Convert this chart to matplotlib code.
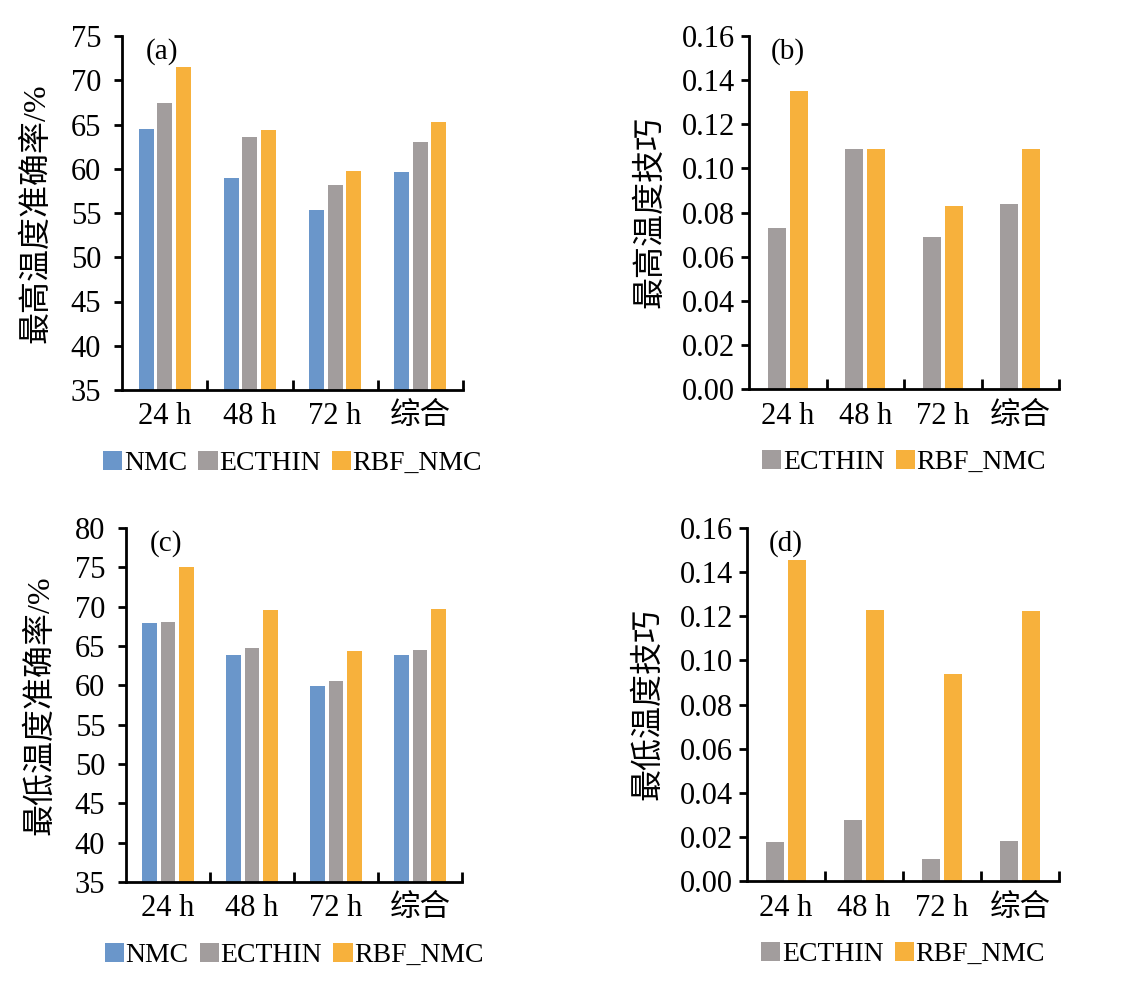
import matplotlib
matplotlib.use('agg')
import matplotlib.pyplot as plt
import numpy as np

plt.rcParams['font.family'] = ['Liberation Serif', 'Noto Sans CJK SC']

categories = ['24 h', '48 h', '72 h', '综合']

# (a) max temperature accuracy, %
a_nmc = [64.5, 58.9, 55.3, 59.6]
a_ecthin = [67.4, 63.6, 58.2, 63.0]
a_rbf = [71.5, 64.4, 59.8, 65.3]

# (b) max temperature skill
b_ecthin = [0.073, 0.109, 0.069, 0.084]
b_rbf = [0.135, 0.109, 0.083, 0.109]

# (c) min temperature accuracy, %
c_nmc = [67.9, 63.9, 59.9, 63.9]
c_ecthin = [68.1, 64.8, 60.5, 64.5]
c_rbf = [75.0, 69.6, 64.4, 69.7]

# (d) min temperature skill
d_ecthin = [0.0177, 0.0276, 0.0100, 0.0183]
d_rbf = [0.1457, 0.1230, 0.0936, 0.1224]

c_blue = '#6a96ca'
c_gray = '#a29d9d'
c_orange = '#f7b13c'

W, H = 1129, 983
fig = plt.figure(figsize=(W / 100, H / 100), dpi=100)


def make_ax(left, right, top, bottom):
    return fig.add_axes([left / W, 1 - bottom / H, (right - left) / W, (bottom - top) / H])


def style(ax, ylim, yticks, fmt, ylabel, tag, ncol, ypad, lpad):
    ax.set_xlim(-0.5, 3.5)
    ax.set_ylim(*ylim)
    ax.set_yticks(yticks)
    ax.set_yticklabels([fmt % v for v in yticks])
    ax.spines['top'].set_visible(False)
    ax.spines['right'].set_visible(False)
    for s in ['left', 'bottom']:
        ax.spines[s].set_linewidth(2)
        ax.spines[s].set_color('black')
    ax.tick_params(axis='y', direction='out', length=6, width=2, labelsize=22, pad=ypad)
    # boundary ticks between categories
    ax.set_xticks([0.5, 1.5, 2.5, 3.5])
    ax.set_xticklabels([])
    ax.tick_params(axis='x', which='major', direction='in', length=7, width=2)
    ax.set_xticks(range(len(categories)), minor=True)
    ax.set_xticklabels(categories, minor=True)
    ax.tick_params(axis='x', which='minor', length=0, labelsize=22, pad=9)
    ax.set_ylabel(ylabel, fontsize=23, labelpad=lpad)
    ax.text(0.07, 0.995, tag, transform=ax.transAxes, fontsize=21, va='top', ha='left')
    ax.legend(loc='upper center', bbox_to_anchor=(0.5, -0.14), ncol=ncol, frameon=False,
              fontsize=20, handlelength=0.7, handleheight=0.7, handletextpad=0.05,
              columnspacing=0.4, borderaxespad=0)


x = np.arange(len(categories))

# (a)
ax = make_ax(122, 463, 36, 390)
w3, s3 = 0.175, 0.217
ax.bar(x - s3, a_nmc, w3, color=c_blue, label='NMC')
ax.bar(x, a_ecthin, w3, color=c_gray, label='ECTHIN')
ax.bar(x + s3, a_rbf, w3, color=c_orange, label='RBF_NMC')
style(ax, (35, 75), np.arange(35, 76, 5), '%d', '最高温度准确率/%', '(a)', 3, 9, 14)

# (b)
ax = make_ax(749, 1059, 36, 389)
w2, s2 = 0.23, 0.14
ax.bar(x - s2, b_ecthin, w2, color=c_gray, label='ECTHIN')
ax.bar(x + s2, b_rbf, w2, color=c_orange, label='RBF_NMC')
style(ax, (0, 0.16), np.arange(0, 0.161, 0.02), '%.2f', '最高温度技巧', '(b)', 2, 4, 12)

# (c)
ax = make_ax(126, 462, 528, 882)
ax.bar(x - s3, c_nmc, w3, color=c_blue, label='NMC')
ax.bar(x, c_ecthin, w3, color=c_gray, label='ECTHIN')
ax.bar(x + s3, c_rbf, w3, color=c_orange, label='RBF_NMC')
style(ax, (35, 80), np.arange(35, 81, 5), '%d', '最低温度准确率/%', '(c)', 3, 9, 14)

# (d)
ax = make_ax(747, 1059, 528, 881)
ax.bar(x - s2, d_ecthin, w2, color=c_gray, label='ECTHIN')
ax.bar(x + s2, d_rbf, w2, color=c_orange, label='RBF_NMC')
style(ax, (0, 0.16), np.arange(0, 0.161, 0.02), '%.2f', '最低温度技巧', '(d)', 2, 4, 12)

plt.savefig('out.png', dpi=100)
